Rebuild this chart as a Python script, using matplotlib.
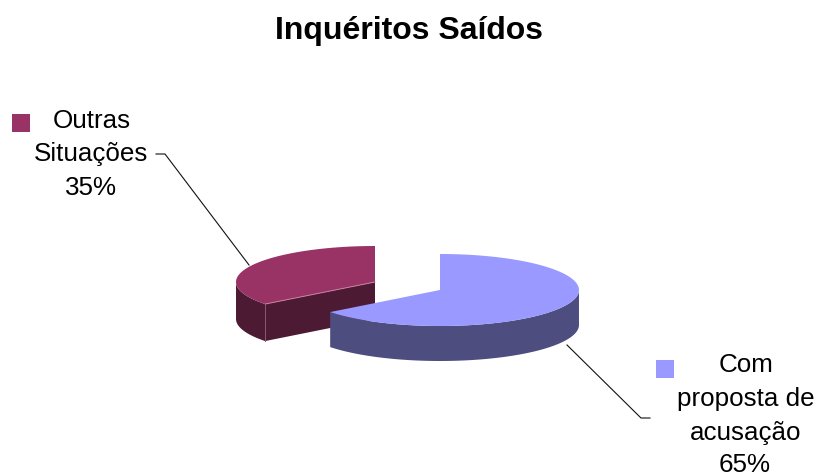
import numpy as np
import matplotlib
matplotlib.use("Agg")
import matplotlib.pyplot as plt
from matplotlib.patches import Polygon, Rectangle

plt.rcParams['font.family'] = ['Liberation Sans', 'DejaVu Sans']

title = "Inquéritos Saídos"
categories = ["Com\nproposta de\nacusação", "Outras\nSituações"]
values = [64.5, 35.5]
top_colors = ["#9999FF", "#993366"]
side_colors = ["#4D4D80", "#4D1A33"]
percent_labels = ["65%", "35%"]

fig = plt.figure(figsize=(8.19, 4.77), dpi=100)
ax = fig.add_axes([0, 0, 1, 1])
ax.set_xlim(0, 819)
ax.set_ylim(477, 0)
ax.axis("off")

RX, RY = 139, 36
DEPTH = [35, 37]
CENTERS = [(440, 291), (375, 283)]


def ell(c, a):
    return c[0] + RX * np.sin(a), c[1] - RY * np.cos(a)


total = sum(values)
fracs = np.cumsum([0] + values) / total * 2 * np.pi


def draw_slice(i):
    c, d = CENTERS[i], DEPTH[i]
    a0, a1 = fracs[i], fracs[i + 1]
    a = np.linspace(a0, a1, 200)
    x, y = ell(c, a)
    # front rim
    vis = (a > np.pi / 2) & (a < 3 * np.pi / 2)
    if vis.any():
        xv, yv = x[vis], y[vis]
        rim = np.r_[np.c_[xv, yv], np.c_[xv, yv + d][::-1]]
        ax.add_patch(Polygon(rim, closed=True, fc=side_colors[i], ec="none", zorder=2 + i * -1))
    # cut faces
    for aa in (a0, a1):
        ex, ey = ell(c, aa)
        if ex < c[0] and i == 1 or (i == 1 and aa == 2 * np.pi):
            face = [(c[0], c[1]), (ex, ey), (ex, ey + d), (c[0], c[1] + d)]
            ax.add_patch(Polygon(face, closed=True, fc=side_colors[i], ec="none", zorder=2 + i * -1))
    # top
    top = np.r_[[c], np.c_[x, y]]
    ax.add_patch(Polygon(top, closed=True, fc=top_colors[i], ec="none", zorder=2.5 + i * -1))
    if i == 1:
        ex, ey = ell(c, a0)
        ax.plot([ex, c[0]], [ey, c[1]], color="#C77F9F", lw=0.7, zorder=2.6 - i)
        ax.plot([ex, ex], [ey, ey + d], color="#8A5A72", lw=0.7, zorder=2.6 - i)


draw_slice(1)
draw_slice(0)

# Leader lines
ax.plot([567, 641, 650], [346, 419, 419], color="#111111", lw=0.8, zorder=0.5)
ax.plot([249, 165, 156], [266, 155, 155], color="#111111", lw=0.8, zorder=0.5)

ax.text(409, 39.5, title, ha="center", va="baseline", fontsize=23, fontweight="bold", color="black")

# Labels
FS = 18.7
ax.text(746.5, 372.5, "Com", ha="center", va="baseline", fontsize=FS)
ax.text(745.5, 406.5, "proposta de", ha="center", va="baseline", fontsize=FS)
ax.text(745.5, 440, "acusação", ha="center", va="baseline", fontsize=FS)
ax.text(745, 472, percent_labels[0], ha="center", va="baseline", fontsize=FS)
ax.text(92, 127.5, "Outras", ha="center", va="baseline", fontsize=FS)
ax.text(91, 161.5, "Situações", ha="center", va="baseline", fontsize=FS)
ax.text(91, 195.5, percent_labels[1], ha="center", va="baseline", fontsize=FS)

# Legend keys
ax.add_patch(Rectangle((656, 361), 18, 18, fc=top_colors[0], ec="none"))
ax.add_patch(Rectangle((12, 115), 18, 18, fc=top_colors[1], ec="none"))

fig.savefig("out.png", dpi=100)
